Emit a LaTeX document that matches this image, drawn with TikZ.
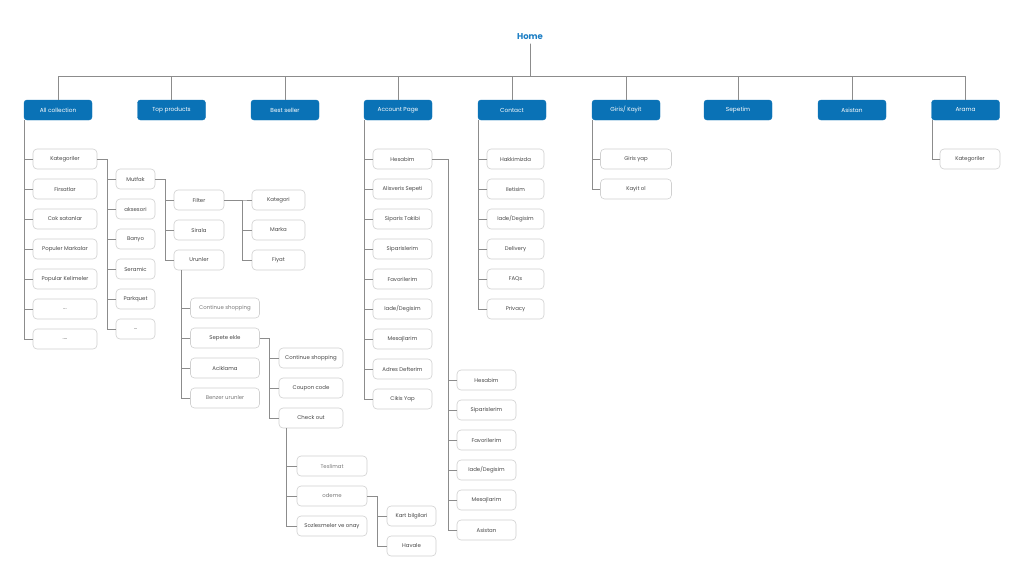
\documentclass[tikz,border=0pt]{standalone}
\usepackage{fontspec}
\setmainfont{Poppins}
\definecolor{topblue}{HTML}{0A72B6}
\definecolor{homeblue}{HTML}{1C7EC4}
\definecolor{linegray}{HTML}{8C8C8C}
\definecolor{boxgray}{HTML}{D0D0D0}
\definecolor{txtgray}{HTML}{474747}
\definecolor{txtlight}{HTML}{7A7A7A}
\tikzstyle{head} = [rectangle, draw=topblue, fill=topblue, text=white, minimum width=68pt, minimum height=20pt, rounded corners=3pt, inner sep=0pt, font=\fontsize{5.8}{7}\selectfont]
\tikzstyle{leaf} = [rectangle, draw=boxgray, fill=white, text=txtgray, minimum height=20pt, rounded corners=4pt, inner sep=0pt, line width=0.6pt, font=\fontsize{5.4}{6.5}\selectfont]
\tikzstyle{faint} = [text=txtlight]
\tikzset{edge/.style = {
    draw=linegray,
    line width=0.9pt,
  }
}

\begin{document}
\begin{tikzpicture}[x=1pt, y=-1pt]
            \useasboundingbox (0,0) rectangle (1024,587);
            % top level
            \node[text=homeblue, font=\fontsize{8.5}{10}\selectfont\bfseries] (home) at (530,37) {Home};
            \coordinate (bar) at (530,76);
            \node[head] (ac) at (58,110) {All collection};
            \node[head] (tp) at (171.5,110) {Top products};
            \node[head] (bs) at (285,110) {Best seller};
            \node[head] (acc) at (398,110) {Account Page};
            \node[head] (con) at (512,110) {Contact};
            \node[head] (gir) at (626,110) {Giris/ Kayit};
            \node[head] (sep) at (738,110) {Sepetim};
            \node[head] (asi) at (852,110) {Asistan};
            \node[head] (ara) at (965.5,110) {Arama};

            % all collection
            \node[leaf, minimum width=64pt] (kat) at (65,159) {Kategoriler};
            \node[leaf, minimum width=64pt] (fir) at (65,189) {Firsatlar};
            \node[leaf, minimum width=64pt] (cok) at (65,219) {Cok satanlar};
            \node[leaf, minimum width=64pt] (pmar) at (65,249) {Populer Markalar};
            \node[leaf, minimum width=64pt] (pkel) at (65,279) {Popular Kelimeler};
            \node[leaf, minimum width=64pt] (dota) at (65,309) {...};
            \node[leaf, minimum width=64pt] (dotb) at (65,339) {....};
            \node[leaf, minimum width=39pt] (mut) at (135.5,179) {Mutfak};
            \node[leaf, minimum width=39pt] (aks) at (135.5,209) {aksesori};
            \node[leaf, minimum width=39pt] (ban) at (135.5,239) {Banyo};
            \node[leaf, minimum width=39pt] (ser) at (135.5,269) {Seramic};
            \node[leaf, minimum width=39pt] (par) at (135.5,299) {Parkquet};
            \node[leaf, minimum width=39pt] (dotc) at (135.5,329) {...};
            \node[leaf, minimum width=50pt] (fil) at (199,200) {Filter};
            \node[leaf, minimum width=50pt] (sir) at (199,230) {Sirala};
            \node[leaf, minimum width=50pt] (uru) at (199,260) {Urunler};
            \node[leaf, minimum width=53pt] (fkat) at (278.5,200) {Kategori};
            \node[leaf, minimum width=53pt] (fmar) at (278.5,230) {Marka};
            \node[leaf, minimum width=53pt] (ffiy) at (278.5,260) {Fiyat};
            \node[leaf, faint, minimum width=69pt] (ucs) at (225,308) {Continue shopping};
            \node[leaf, minimum width=69pt] (usep) at (225,338) {Sepete ekle};
            \node[leaf, minimum width=69pt] (uaci) at (225,368) {Aciklama};
            \node[leaf, faint, minimum width=69pt] (uben) at (225,398) {Benzer urunler};
            \node[leaf, minimum width=64pt] (scs) at (311,358) {Continue shopping};
            \node[leaf, minimum width=64pt] (scou) at (311,388) {Coupon code};
            \node[leaf, minimum width=64pt] (sche) at (311,418) {Check out};
            \node[leaf, faint, minimum width=70pt] (ctes) at (332,466) {Teslimat};
            \node[leaf, faint, minimum width=70pt] (code) at (332,496) {odeme};
            \node[leaf, minimum width=70pt] (csoz) at (332,526) {Sozlesmeler ve onay};
            \node[leaf, minimum width=49pt] (okart) at (411.5,516) {Kart bilgilari};
            \node[leaf, minimum width=49pt] (ohav) at (411.5,546) {Havale};

            % account page
            \node[leaf, minimum width=59pt] (hes) at (402.5,159) {Hesabim};
            \node[leaf, minimum width=59pt] (ali) at (402.5,189) {Alisveris Sepeti};
            \node[leaf, minimum width=59pt] (sip) at (402.5,219) {Siparis Takibi};
            \node[leaf, minimum width=59pt] (sipl) at (402.5,249) {Siparislerim};
            \node[leaf, minimum width=59pt] (fav) at (402.5,279) {Favorilerim};
            \node[leaf, minimum width=59pt] (iad) at (402.5,309) {Iade/Degisim};
            \node[leaf, minimum width=59pt] (mes) at (402.5,339) {Mesajlarim};
            \node[leaf, minimum width=59pt] (adr) at (402.5,369) {Adres Defterim};
            \node[leaf, minimum width=59pt] (cik) at (402.5,399) {Cikis Yap};
            \node[leaf, minimum width=59pt] (hhes) at (486.5,380) {Hesabim};
            \node[leaf, minimum width=59pt] (hsip) at (486.5,410) {Siparislerim};
            \node[leaf, minimum width=59pt] (hfav) at (486.5,440) {Favorilerim};
            \node[leaf, minimum width=59pt] (hiad) at (486.5,470) {Iade/Degisim};
            \node[leaf, minimum width=59pt] (hmes) at (486.5,500) {Mesajlarim};
            \node[leaf, minimum width=59pt] (hasi) at (486.5,530) {Asistan};

            % contact, giris, arama
            \node[leaf, minimum width=57pt] (hak) at (515.5,159) {Hakkimizda};
            \node[leaf, minimum width=57pt] (ile) at (515.5,189) {Iletisim};
            \node[leaf, minimum width=57pt] (ciad) at (515.5,219) {Iade/Degisim};
            \node[leaf, minimum width=57pt] (del) at (515.5,249) {Delivery};
            \node[leaf, minimum width=57pt] (faq) at (515.5,279) {FAQs};
            \node[leaf, minimum width=57pt] (pri) at (515.5,309) {Privacy};
            \node[leaf, minimum width=71pt] (gyap) at (636,159) {Giris yap};
            \node[leaf, minimum width=71pt] (gkay) at (636,189) {Kayit ol};
            \node[leaf, minimum width=60pt] (akat) at (970,159) {Kategoriler};

            %edges
            \draw[edge] (home.south) -- (bar) -| (ac.north);
            \draw[edge] (home.south) -- (bar) -| (tp.north);
            \draw[edge] (home.south) -- (bar) -| (bs.north);
            \draw[edge] (home.south) -- (bar) -| (acc.north);
            \draw[edge] (home.south) -- (bar) -| (con.north);
            \draw[edge] (home.south) -- (bar) -| (gir.north);
            \draw[edge] (home.south) -- (bar) -| (sep.north);
            \draw[edge] (home.south) -- (bar) -| (asi.north);
            \draw[edge] (home.south) -- (bar) -| (ara.north);

            %trunk lines
            \draw[edge] ([xshift=1pt]ac.south west) |- (kat.west);
            \draw[edge] ([xshift=1pt]ac.south west) |- (fir.west);
            \draw[edge] ([xshift=1pt]ac.south west) |- (cok.west);
            \draw[edge] ([xshift=1pt]ac.south west) |- (pmar.west);
            \draw[edge] ([xshift=1pt]ac.south west) |- (pkel.west);
            \draw[edge] ([xshift=1pt]ac.south west) |- (dota.west);
            \draw[edge] ([xshift=1pt]ac.south west) |- (dotb.west);
            \draw[edge] ([xshift=8pt]uru.south west) |- (ucs.west);
            \draw[edge] ([xshift=8pt]uru.south west) |- (usep.west);
            \draw[edge] ([xshift=8pt]uru.south west) |- (uaci.west);
            \draw[edge] ([xshift=8pt]uru.south west) |- (uben.west);
            \draw[edge] ([xshift=8pt]sche.south west) |- (ctes.west);
            \draw[edge] ([xshift=8pt]sche.south west) |- (code.west);
            \draw[edge] ([xshift=8pt]sche.south west) |- (csoz.west);
            \draw[edge] ([xshift=1pt]acc.south west) |- (hes.west);
            \draw[edge] ([xshift=1pt]acc.south west) |- (ali.west);
            \draw[edge] ([xshift=1pt]acc.south west) |- (sip.west);
            \draw[edge] ([xshift=1pt]acc.south west) |- (sipl.west);
            \draw[edge] ([xshift=1pt]acc.south west) |- (fav.west);
            \draw[edge] ([xshift=1pt]acc.south west) |- (iad.west);
            \draw[edge] ([xshift=1pt]acc.south west) |- (mes.west);
            \draw[edge] ([xshift=1pt]acc.south west) |- (adr.west);
            \draw[edge] ([xshift=1pt]acc.south west) |- (cik.west);
            \draw[edge] ([xshift=1pt]con.south west) |- (hak.west);
            \draw[edge] ([xshift=1pt]con.south west) |- (ile.west);
            \draw[edge] ([xshift=1pt]con.south west) |- (ciad.west);
            \draw[edge] ([xshift=1pt]con.south west) |- (del.west);
            \draw[edge] ([xshift=1pt]con.south west) |- (faq.west);
            \draw[edge] ([xshift=1pt]con.south west) |- (pri.west);
            \draw[edge] ([xshift=1pt]gir.south west) |- (gyap.west);
            \draw[edge] ([xshift=1pt]gir.south west) |- (gkay.west);
            \draw[edge] ([xshift=1pt]ara.south west) |- (akat.west);

            %side lines
            \draw[edge] (kat.east) -- ++(10,0) |- (mut.west);
            \draw[edge] (kat.east) -- ++(10,0) |- (aks.west);
            \draw[edge] (kat.east) -- ++(10,0) |- (ban.west);
            \draw[edge] (kat.east) -- ++(10,0) |- (ser.west);
            \draw[edge] (kat.east) -- ++(10,0) |- (par.west);
            \draw[edge] (kat.east) -- ++(10,0) |- (dotc.west);
            \draw[edge] (mut.east) -- ++(10,0) |- (fil.west);
            \draw[edge] (mut.east) -- ++(10,0) |- (sir.west);
            \draw[edge] (mut.east) -- ++(10,0) |- (uru.west);
            \draw[edge] (fil.east) -- ++(18,0) |- (fkat.west);
            \draw[edge] (fil.east) -- ++(18,0) |- (fmar.west);
            \draw[edge] (fil.east) -- ++(18,0) |- (ffiy.west);
            \draw[edge] (usep.east) -- ++(10,0) |- (scs.west);
            \draw[edge] (usep.east) -- ++(10,0) |- (scou.west);
            \draw[edge] (usep.east) -- ++(10,0) |- (sche.west);
            \draw[edge] (code.east) -- ++(10,0) |- (okart.west);
            \draw[edge] (code.east) -- ++(10,0) |- (ohav.west);
            \draw[edge] (hes.east) -- ++(16,0) |- (hhes.west);
            \draw[edge] (hes.east) -- ++(16,0) |- (hsip.west);
            \draw[edge] (hes.east) -- ++(16,0) |- (hfav.west);
            \draw[edge] (hes.east) -- ++(16,0) |- (hiad.west);
            \draw[edge] (hes.east) -- ++(16,0) |- (hmes.west);
            \draw[edge] (hes.east) -- ++(16,0) |- (hasi.west);

          \end{tikzpicture}
\end{document}
